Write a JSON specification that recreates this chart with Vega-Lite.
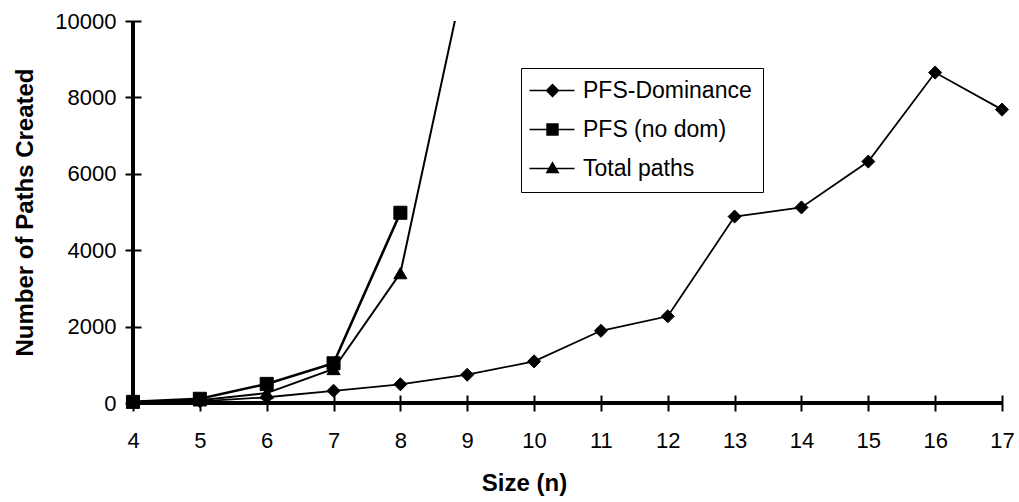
{
  "$schema": "https://vega.github.io/schema/vega-lite/v6.json",
  "width": 869,
  "height": 382,
  "autosize": {"type": "none"},
  "padding": {"left": 133, "top": 21, "right": 17, "bottom": 99},
  "background": "white",
  "data": {
    "values": [
      {"series": "PFS-Dominance", "n": 4, "value": 15},
      {"series": "PFS-Dominance", "n": 5, "value": 45},
      {"series": "PFS-Dominance", "n": 6, "value": 150},
      {"series": "PFS-Dominance", "n": 7, "value": 320},
      {"series": "PFS-Dominance", "n": 8, "value": 490},
      {"series": "PFS-Dominance", "n": 9, "value": 740},
      {"series": "PFS-Dominance", "n": 10, "value": 1090},
      {"series": "PFS-Dominance", "n": 11, "value": 1890},
      {"series": "PFS-Dominance", "n": 12, "value": 2270},
      {"series": "PFS-Dominance", "n": 13, "value": 4880},
      {"series": "PFS-Dominance", "n": 14, "value": 5120},
      {"series": "PFS-Dominance", "n": 15, "value": 6320},
      {"series": "PFS-Dominance", "n": 16, "value": 8650},
      {"series": "PFS-Dominance", "n": 17, "value": 7680},
      {"series": "PFS (no dom)", "n": 4, "value": 30},
      {"series": "PFS (no dom)", "n": 5, "value": 110},
      {"series": "PFS (no dom)", "n": 6, "value": 500},
      {"series": "PFS (no dom)", "n": 7, "value": 1040},
      {"series": "PFS (no dom)", "n": 8, "value": 4980},
      {"series": "Total paths", "n": 4, "value": 24},
      {"series": "Total paths", "n": 5, "value": 70},
      {"series": "Total paths", "n": 6, "value": 260},
      {"series": "Total paths", "n": 7, "value": 890},
      {"series": "Total paths", "n": 8, "value": 3400},
      {"series": "Total paths", "n": 9, "value": 11500}
    ]
  },
  "config": {
    "view": {"stroke": null},
    "axis": {
      "domain": false,
      "grid": false,
      "ticks": true,
      "tickColor": "black",
      "tickOpacity": 1,
      "tickWidth": 2,
      "labelFont": "Liberation Sans",
      "labelFontSize": 22,
      "labelColor": "black",
      "labelFlush": false,
      "titleFont": "Liberation Sans",
      "titleFontSize": 24,
      "titleFontWeight": "bold",
      "titleColor": "black"
    }
  },
  "resolve": {"scale": {"shape": "independent"}, "legend": {"shape": "independent"}},
  "layer": [
    {
      "mark": {"type": "rule", "color": "black", "strokeWidth": 3},
      "encoding": {"y": {"datum": 0, "type": "quantitative"}}
    },
    {
      "mark": {"type": "rule", "color": "black", "strokeWidth": 3},
      "encoding": {"x": {"datum": 4, "type": "quantitative"}}
    },
    {
      "transform": [{"filter": "datum.series === 'PFS-Dominance'"}],
      "mark": {"type": "line", "color": "black", "clip": true, "strokeWidth": 1.8},
      "encoding": {
        "x": {
          "field": "n",
          "type": "quantitative",
          "title": "Size (n)",
          "scale": {"domain": [4, 17], "nice": false, "zero": false},
          "axis": {
            "values": [4, 5, 6, 7, 8, 9, 10, 11, 12, 13, 14, 15, 16, 17],
            "format": "d",
            "offset": -8,
            "tickSize": 16,
            "labelPadding": 19,
            "titleX": 391,
            "titleY": 95,
            "titleBaseline": "alphabetic",
            "titleAlign": "center"
          }
        },
        "y": {
          "field": "value",
          "type": "quantitative",
          "title": "Number of Paths Created",
          "scale": {"domain": [0, 10000], "nice": false},
          "axis": {
            "values": [0, 2000, 4000, 6000, 8000, 10000],
            "format": "d",
            "offset": -8,
            "tickSize": 16,
            "labelPadding": 9,
            "titleX": -109,
            "titleY": 191,
            "titleAngle": -90,
            "titleBaseline": "alphabetic",
            "titleAlign": "center"
          }
        }
      }
    },
    {
      "transform": [{"filter": "datum.series === 'PFS (no dom)'"}],
      "mark": {"type": "line", "color": "black", "clip": true, "strokeWidth": 2.6},
      "encoding": {
        "x": {"field": "n", "type": "quantitative"},
        "y": {"field": "value", "type": "quantitative"}
      }
    },
    {
      "transform": [{"filter": "datum.series === 'Total paths'"}],
      "mark": {"type": "line", "color": "black", "clip": true, "strokeWidth": 2},
      "encoding": {
        "x": {"field": "n", "type": "quantitative"},
        "y": {"field": "value", "type": "quantitative"}
      }
    },
    {
      "transform": [{"filter": "datum.value <= 10000"}],
      "mark": {"type": "point", "filled": true, "color": "black", "stroke": "black", "strokeWidth": 1, "size": 170, "opacity": 1},
      "encoding": {
        "x": {"field": "n", "type": "quantitative"},
        "y": {"field": "value", "type": "quantitative"},
        "shape": {
          "field": "series",
          "type": "nominal",
          "scale": {"domain": ["PFS-Dominance", "PFS (no dom)", "Total paths"], "range": ["diamond", "square", "triangle-up"]},
          "legend": null
        }
      }
    },
    {
      "transform": [{"filter": "datum.value < 0"}],
      "mark": {"type": "point", "filled": true, "color": "black", "stroke": "black", "strokeWidth": 1.5, "size": 400, "opacity": 1},
      "encoding": {
        "x": {"field": "n", "type": "quantitative"},
        "y": {"field": "value", "type": "quantitative"},
        "shape": {
          "field": "series",
          "type": "nominal",
          "scale": {
            "domain": ["PFS-Dominance", "PFS (no dom)", "Total paths"],
            "range": [
              "M-1.4,-0.08H3.1V0.08H-1.4ZM0.9,-0.7L1.6,0L0.9,0.7L0.2,0Z",
              "M-1.4,-0.08H3.1V0.08H-1.4ZM0.28,-0.62H1.52V0.62H0.28Z",
              "M-1.4,-0.08H3.1V0.08H-1.4ZM0.9,-0.72L1.6,0.48L0.2,0.48Z"
            ]
          },
          "legend": {
            "title": null,
            "orient": "none",
            "legendX": 388,
            "legendY": 47,
            "strokeColor": "black",
            "padding": 11,
            "symbolSize": 400,
            "symbolFillColor": "black",
            "symbolStrokeColor": "black",
            "symbolStrokeWidth": 1.5,
            "labelFont": "Liberation Sans",
            "labelFontSize": 23,
            "labelColor": "black",
            "labelLimit": 400,
            "labelOffset": 28,
            "rowPadding": 15
          }
        }
      }
    }
  ]
}
